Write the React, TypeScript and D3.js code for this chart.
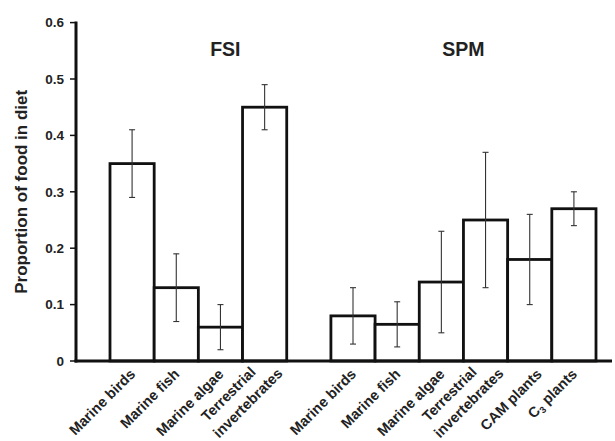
import { useEffect, useRef } from 'react'
import * as d3 from 'd3'

// diet groups and the food sources in each
const groupNames = ['FSI', 'SPM']

const fsiFoods = ['Marine birds', 'Marine fish', 'Marine algae', 'Terrestrial\ninvertebrates']
const fsiMeans = [0.35, 0.13, 0.06, 0.45]
const fsiLow = [0.29, 0.07, 0.02, 0.41]
const fsiHigh = [0.41, 0.19, 0.1, 0.49]

const spmFoods = ['Marine birds', 'Marine fish', 'Marine algae', 'Terrestrial\ninvertebrates', 'CAM plants', 'C3 plants']
const spmMeans = [0.08, 0.065, 0.14, 0.25, 0.18, 0.27]
const spmLow = [0.03, 0.025, 0.05, 0.13, 0.1, 0.24]
const spmHigh = [0.13, 0.105, 0.23, 0.37, 0.26, 0.3]

const yTicks = [0, 0.1, 0.2, 0.3, 0.4, 0.5, 0.6]
const yLabel = 'Proportion of food in diet'

const WIDTH = 615
const HEIGHT = 441
const FONT = '"Liberation Sans", Arial, Helvetica, sans-serif'

type Bar = { key: string; group: string; food: string; mean: number; low: number; high: number }

function buildBars(): Bar[] {
  const fsi = fsiFoods.map((food, i) => ({ key: `FSI-${i}`, group: 'FSI', food, mean: fsiMeans[i], low: fsiLow[i], high: fsiHigh[i] }))
  const spm = spmFoods.map((food, i) => ({ key: `SPM-${i}`, group: 'SPM', food, mean: spmMeans[i], low: spmLow[i], high: spmHigh[i] }))
  return [...fsi, ...spm]
}

export default function App() {
  const svgRef = useRef<SVGSVGElement>(null)

  useEffect(() => {
    const svgNode = svgRef.current
    if (!svgNode) return

    const svg = d3.select(svgNode)
    svg.selectAll('*').remove()

    const bars = buildBars()
    // one empty slot between the two groups
    const domain = [...bars.filter(b => b.group === 'FSI').map(b => b.key), 'gap', ...bars.filter(b => b.group === 'SPM').map(b => b.key)]

    const x = d3.scaleBand<string>().domain(domain).range([110, 596]).padding(0)
    const y = d3.scaleLinear().domain([0, 0.6]).range([361, 22.6])
    const bw = x.bandwidth()

    // y axis
    svg.append('line')
      .attr('x1', 76).attr('x2', 76)
      .attr('y1', y(0.6) - 1).attr('y2', y(0) + 1.5)
      .attr('stroke', '#111').attr('stroke-width', 3)

    svg.append('g')
      .selectAll('line')
      .data(yTicks)
      .join('line')
      .attr('x1', 70).attr('x2', 76)
      .attr('y1', d => y(d)).attr('y2', d => y(d))
      .attr('stroke', '#111').attr('stroke-width', 1.5)

    svg.append('g')
      .selectAll('text')
      .data(yTicks)
      .join('text')
      .attr('x', 64)
      .attr('y', d => y(d))
      .attr('dy', '0.36em')
      .attr('text-anchor', 'end')
      .attr('font-family', FONT)
      .attr('font-weight', 'bold')
      .attr('font-size', 13.5)
      .attr('fill', '#222')
      .text(d => (d === 0 ? '0' : d3.format('.1f')(d)))

    svg.append('text')
      .attr('transform', `translate(27,${(y(0) + y(0.6)) / 2}) rotate(-90)`)
      .attr('text-anchor', 'middle')
      .attr('font-family', FONT)
      .attr('font-weight', 'bold')
      .attr('font-size', 17)
      .attr('fill', '#222')
      .text(yLabel)

    // bars
    svg.append('g')
      .selectAll('rect')
      .data(bars)
      .join('rect')
      .attr('x', d => x(d.key)!)
      .attr('y', d => y(d.mean))
      .attr('width', bw)
      .attr('height', d => y(0) - y(d.mean))
      .attr('fill', '#fff')
      .attr('stroke', '#111')
      .attr('stroke-width', 2.8)

    // error bars
    const err = svg.append('g').attr('stroke', '#333').attr('stroke-width', 1.1)
    bars.forEach(d => {
      const cx = x(d.key)! + bw / 2
      err.append('line').attr('x1', cx).attr('x2', cx).attr('y1', y(d.high)).attr('y2', y(d.low))
      err.append('line').attr('x1', cx - 3).attr('x2', cx + 3).attr('y1', y(d.high)).attr('y2', y(d.high))
      err.append('line').attr('x1', cx - 3).attr('x2', cx + 3).attr('y1', y(d.low)).attr('y2', y(d.low))
    })

    // x axis baseline
    svg.append('line')
      .attr('x1', 74.5).attr('x2', 612)
      .attr('y1', y(0)).attr('y2', y(0))
      .attr('stroke', '#111').attr('stroke-width', 3)

    // group titles
    const titleShift: Record<string, number> = { FSI: 27, SPM: 0 }
    groupNames.forEach(name => {
      const keys = bars.filter(b => b.group === name).map(b => b.key)
      const cx = (x(keys[0])! + x(keys[keys.length - 1])! + bw) / 2 + titleShift[name]
      svg.append('text')
        .attr('x', cx)
        .attr('y', 56)
        .attr('text-anchor', 'middle')
        .attr('font-family', FONT)
        .attr('font-weight', 'bold')
        .attr('font-size', 19.5)
        .attr('fill', '#222')
        .text(name)
    })

    // rotated category labels
    const labels = svg.append('g')
      .attr('font-family', FONT)
      .attr('font-weight', 'bold')
      .attr('font-size', 14.5)
      .attr('fill', '#222')

    const labelNudge: Record<string, number> = { 'CAM plants': 9 }

    bars.forEach(d => {
      const cx = x(d.key)! + bw / 2 + (labelNudge[d.food] ?? 0)
      const t = labels.append('text')
        .attr('transform', `translate(${cx + 4},375) rotate(-45)`)
        .attr('text-anchor', 'end')
      const lines = d.food.split('\n')
      if (lines.length > 1) {
        t.append('tspan').attr('x', -7).attr('y', -10).text(lines[0])
        t.append('tspan').attr('x', 11).attr('y', 10).text(lines[1])
      } else if (d.food.startsWith('C3')) {
        t.append('tspan').text('C')
        t.append('tspan').attr('font-size', 9.5).attr('dy', 3).text('3')
        t.append('tspan').attr('dy', -3).text(' plants')
      } else {
        t.text(d.food)
      }
    })
  }, [])

  return (
    <div style={{ position: 'absolute', left: 0, top: 0, width: WIDTH, height: HEIGHT, background: '#fff' }}>
      <svg ref={svgRef} width={WIDTH} height={HEIGHT} style={{ display: 'block' }} />
    </div>
  )
}
